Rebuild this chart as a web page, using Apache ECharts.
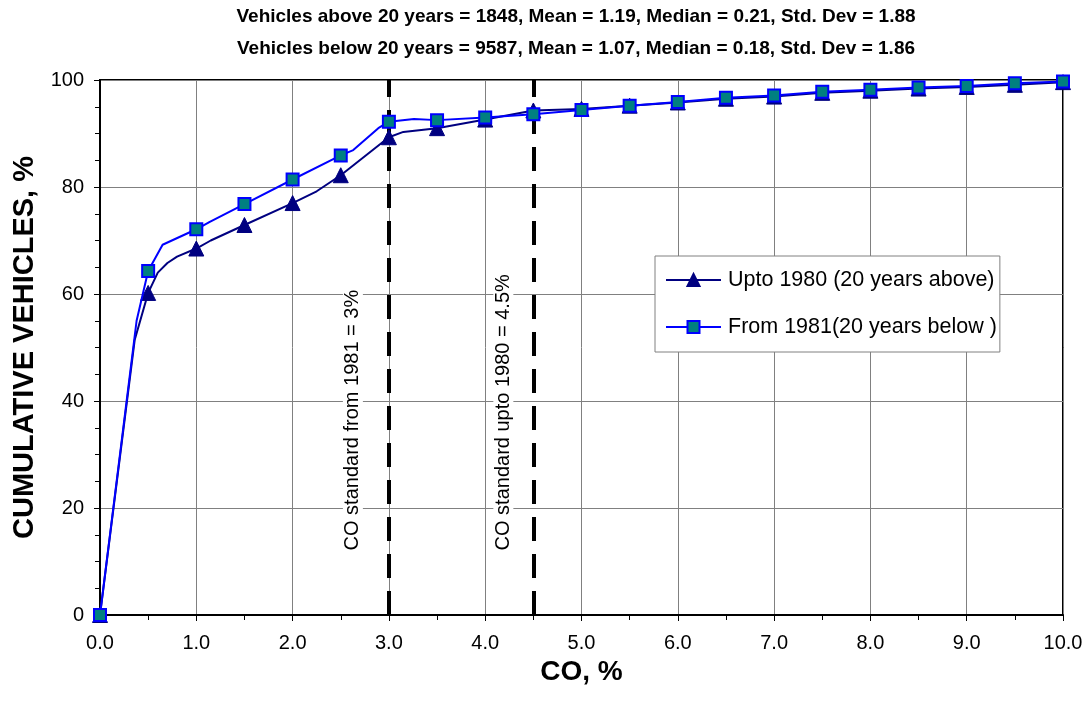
<!DOCTYPE html>
<html>
<head>
<meta charset="utf-8">
<title>Cumulative vehicles vs CO</title>
<script src="https://cdn.jsdelivr.net/npm/echarts@6/dist/echarts.min.js"></script>
<style>
  html, body { margin: 0; padding: 0; background: #fff; }
  #chart { width: 1090px; height: 709px; }
</style>
</head>
<body>
<div id="chart"></div>
<script>
// CO concentration steps (%), each carries a marker
const coSteps = [0, 0.5, 1, 1.5, 2, 2.5, 3, 3.5, 4, 4.5, 5, 5.5, 6, 6.5, 7, 7.5, 8, 8.5, 9, 9.5, 10];

// Cumulative share of vehicles (%) at each CO step
const upto1980 = [0, 60.2, 68.5, 72.9, 77.0, 82.2, 89.3, 91.0, 92.6, 94.3, 94.6, 95.2, 95.8, 96.5, 96.9, 97.6, 98.0, 98.4, 98.7, 99.1, 99.6];
const from1981 = [0, 64.3, 72.1, 76.8, 81.4, 85.9, 92.2, 92.5, 93.0, 93.6, 94.4, 95.2, 95.9, 96.7, 97.1, 97.8, 98.2, 98.6, 98.9, 99.4, 99.7];

// In-between readings along each curve (no marker)
const upto1980Between = [[0.36, 51.4], [0.6, 64.0], [0.7, 65.8], [0.8, 67.0], [1.15, 70.0], [2.25, 79.2], [3.15, 90.3]];
const from1981Between = [[0.38, 55.0], [0.65, 69.2], [1.14, 73.5], [2.63, 86.9], [2.89, 91.0], [3.26, 92.7]];

// CO limits (%)
const limitFrom1981 = 3;
const limitUpto1980 = 4.5;

const xTicks = [0, 1, 2, 3, 4, 5, 6, 7, 8, 9, 10];
const yTicks = [0, 20, 40, 60, 80, 100];

const titleLines = [
  'Vehicles above 20 years = 1848, Mean = 1.19, Median = 0.21, Std. Dev = 1.88',
  'Vehicles below 20 years = 9587, Mean = 1.07, Median = 0.18, Std. Dev = 1.86'
];
const seriesNames = ['Upto 1980 (20 years above)', 'From 1981(20 years below )'];
const limitLabels = ['CO standard from 1981 = 3%', 'CO standard upto 1980 = 4.5%'];

const FONT = "'Liberation Sans', Arial, sans-serif";

// merge marked steps with unmarked in-between readings, sorted by CO
function buildData(values, between) {
  const pts = coSteps.map((x, i) => ({ value: [x, values[i]] }));
  between.forEach(p => pts.push({ value: p, symbol: 'none' }));
  pts.sort((a, b) => a.value[0] - b.value[0]);
  return pts;
}

const chart = echarts.init(document.getElementById('chart'), null, { renderer: 'canvas' });

const option = {
  animation: false,
  backgroundColor: '#ffffff',
  title: {
    text: titleLines.join('\n'),
    left: 571,
    top: -4,
    textAlign: 'center',
    textStyle: { fontFamily: FONT, fontSize: 19, fontWeight: 'bold', color: '#000', lineHeight: 32 }
  },
  legend: {
    orient: 'vertical',
    left: 655,
    top: 256,
    itemWidth: 55,
    itemHeight: 15,
    itemGap: 25,
    padding: [13, 3, 14, 10],
    borderColor: '#808080',
    borderWidth: 1,
    backgroundColor: '#ffffff',
    textStyle: { fontFamily: FONT, fontSize: 21.5, color: '#000', padding: [0, 0, 0, 2] },
    data: seriesNames
  },
  grid: {
    left: 100, right: 27, top: 80, bottom: 94,
    show: true, borderColor: '#000', borderWidth: 2
  },
  xAxis: {
    type: 'value',
    min: xTicks[0], max: xTicks[xTicks.length - 1], interval: 1,
    name: 'CO, %',
    nameLocation: 'middle',
    nameGap: 33,
    nameTextStyle: { fontFamily: FONT, fontSize: 28, fontWeight: 'bold', color: '#000' },
    axisLine: { lineStyle: { color: '#000', width: 2 } },
    axisTick: { show: true, inside: false, length: 6, lineStyle: { color: '#000', width: 1 } },
    minorTick: { show: true, splitNumber: 2, length: 5, lineStyle: { color: '#000' } },
    axisLabel: { fontFamily: FONT, fontSize: 20, color: '#000', margin: 18, formatter: v => v.toFixed(1) },
    splitLine: { show: true, lineStyle: { color: '#808080', width: 1 } }
  },
  yAxis: {
    type: 'value',
    min: yTicks[0], max: yTicks[yTicks.length - 1], interval: 20,
    name: 'CUMULATIVE VEHICLES, %',
    nameLocation: 'middle',
    nameGap: 56,
    nameRotate: 90,
    nameTextStyle: { fontFamily: FONT, fontSize: 29, fontWeight: 'bold', color: '#000' },
    axisLine: { show: true, lineStyle: { color: '#000', width: 2 } },
    axisTick: { show: true, inside: false, length: 6, lineStyle: { color: '#000', width: 1 } },
    minorTick: { show: true, splitNumber: 4, length: 5, lineStyle: { color: '#000' } },
    axisLabel: { fontFamily: FONT, fontSize: 20, color: '#000', margin: 16 },
    splitLine: { show: true, lineStyle: { color: '#808080', width: 1 } }
  },
  series: [
    {
      name: seriesNames[0],
      type: 'line',
      data: buildData(upto1980, upto1980Between),
      symbol: 'triangle',
      symbolSize: 15,
      showAllSymbol: true,
      lineStyle: { color: '#000080', width: 2 },
      itemStyle: { color: '#000080', borderColor: '#000080', borderWidth: 1 },
      z: 3,
      markLine: {
        silent: true,
        symbol: 'none',
        label: { show: false },
        lineStyle: { color: '#000', width: 4, type: [24, 13] },
        data: [{ xAxis: limitFrom1981 }, { xAxis: limitUpto1980 }],
        z: 2
      }
    },
    {
      name: seriesNames[1],
      type: 'line',
      data: buildData(from1981, from1981Between),
      symbol: 'rect',
      symbolSize: 12,
      showAllSymbol: true,
      lineStyle: { color: '#0000ff', width: 2 },
      itemStyle: { color: '#008080', borderColor: '#0000ff', borderWidth: 2 },
      z: 4
    }
  ]
};

chart.setOption(option);

// rotated captions beside the two CO limit lines
function placeLimitLabels() {
  const base = chart.convertToPixel({ xAxisIndex: 0, yAxisIndex: 0 }, [0, 11.5]);
  const specs = [
    { x: limitFrom1981, text: limitLabels[0], dx: -36 },
    { x: limitUpto1980, text: limitLabels[1], dx: -30 }
  ];
  chart.setOption({
    graphic: specs.map(s => {
      const px = chart.convertToPixel({ xAxisIndex: 0 }, s.x);
      return {
        type: 'text',
        x: px + s.dx,
        y: base[1],
        rotation: Math.PI / 2,
        z: 10,
        style: {
          text: s.text,
          fontFamily: FONT,
          fontSize: 20,
          fill: '#000',
          align: 'left',
          verticalAlign: 'middle',
          backgroundColor: '#ffffff',
          padding: [0, 3, 0, 3]
        }
      };
    })
  });
}
placeLimitLabels();
</script>
</body>
</html>
